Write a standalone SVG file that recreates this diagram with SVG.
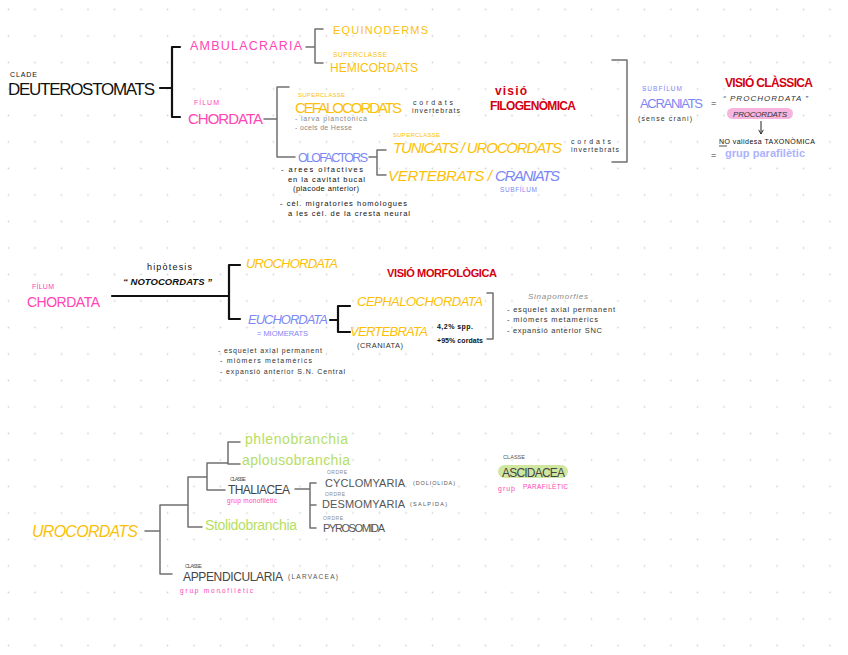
<svg xmlns="http://www.w3.org/2000/svg" width="848" height="655" viewBox="0 0 848 655">
<defs>
<pattern id="dots" x="7" y="8" width="26.5" height="26.5" patternUnits="userSpaceOnUse"><circle cx="1.5" cy="1.5" r="0.9" fill="#d6d6d6"/></pattern>
<marker id="arr" viewBox="0 0 10 10" refX="8" refY="5" markerWidth="6" markerHeight="6" orient="auto"><path d="M1,1 L8,5 L1,9" fill="none" stroke="#222" stroke-width="1.5"/></marker>
<style>
text{font-family:"Liberation Sans","DejaVu Sans",sans-serif}
.mag{fill:#ff45b5}
.yel{fill:#fcbf0a}
.blu{fill:#7d87f4}
.red{fill:#d40010;font-weight:bold}
.grn{fill:#b6de64}
.blk{fill:#111}
.dk{fill:#333}
.gry{fill:#555}
.lg{fill:#8a8a8a}
.it{font-style:italic}
.b{font-weight:bold}
.br{fill:none;stroke:#111;stroke-width:2.2;stroke-linecap:round;stroke-linejoin:round}
.bg{fill:none;stroke:#707070;stroke-width:1.5;stroke-linecap:round;stroke-linejoin:round}
</style>
</defs>
<rect width="848" height="655" fill="#fff"/>
<rect width="848" height="655" fill="url(#dots)"/>

<g id="connectors">
<path class="br" d="M160,88 H172 M180,47 H172 V117 H180"/>
<path class="bg" d="M306,47 H315 M323,29 H315 V63 H323"/>
<path class="bg" d="M264,119 H277 M289,87 H277 V157 H295"/>
<path class="bg" d="M369,157 H377 M386,150 H377 V175 H386"/>
<path class="bg" d="M612,60 H627 V162 H612"/>
<path fill="none" stroke="#222" stroke-width="1" d="M761,121 V134" marker-end="url(#arr)"/>
<path fill="none" stroke="#222" stroke-width="0.8" d="M719,146 H727"/>
<path class="br" d="M112,296 H229 M240,265 H229 V319 H240"/>
<path class="br" d="M330,320 H338 M350,306 H338 V332 H350"/>
<path class="bg" d="M487,293 H493 V339 H487"/>
<path class="bg" d="M145,531 H160 M188,505 H160 V574 H172 M207,477 H188 V527 H202 M225,490 H207 V463 H228 M240,442 H228 V464 H240"/>
<path class="bg" d="M295,489 H310 M316,483 H310 V528 H316 M310,505 H316"/>
</g>

<g id="deuterostomats"><text x="10" y="77" font-size="7" textLength="27" class="blk">CLADE</text><text x="8" y="95" font-size="17" textLength="147" class="blk">DEUTEROSTOMATS</text></g>
<g id="ambulacraria"><text x="190" y="50" font-size="12.5" textLength="112" class="mag">AMBULACRARIA</text></g>
<g id="equinoderms"><text x="333" y="34" font-size="11" textLength="95" class="yel">EQUINODERMS</text></g>
<g id="hemicordats"><text x="333" y="57" font-size="6.5" textLength="54" class="yel">SUPERCLASSE</text><text x="330" y="72" font-size="12" textLength="88" class="yel">HEMICORDATS</text></g>
<g id="chordata1"><text x="194" y="105" font-size="7" textLength="25" class="mag">FÍLUM</text><text x="188" y="124" font-size="15" textLength="75" class="mag">CHORDATA</text></g>
<g id="cefalocordats"><text x="298" y="97" font-size="6" textLength="47" class="yel">SUPERCLASSE</text><text x="295" y="113" font-size="15" textLength="107" class="yel">CEFALOCORDATS</text>
<text x="295" y="121" font-size="7" textLength="72" class="lg">- larva planctònica</text><text x="295" y="130" font-size="7" textLength="57" class="lg">- ocels de Hesse</text>
<text x="413" y="105" font-size="7" textLength="40" class="dk">cordats</text><text x="412" y="113" font-size="7" textLength="48" class="dk">invertebrats</text></g>
<g id="olofactors"><text x="298" y="162" font-size="12.5" textLength="70" class="blu">OLOFACTORS</text>
<text x="281" y="172" font-size="7.5" textLength="82" class="blk">- arees olfactives</text><text x="288" y="182" font-size="7.5" textLength="77" class="blk">en la cavitat bucal</text><text x="293" y="191" font-size="7.5" textLength="66" class="blk">(placode anterior)</text>
<text x="280" y="206" font-size="7.5" textLength="127" class="blk">- cèl. migratories homòlogues</text><text x="288" y="216" font-size="7.5" textLength="122" class="blk">a les cèl. de la cresta neural</text></g>
<g id="filogenomica"><text x="495" y="95" font-size="12" textLength="32" class="red">visió</text><text x="490" y="110" font-size="12" textLength="86" class="red">FILOGENÒMICA</text></g>
<g id="tunicats"><text x="393" y="137" font-size="6" textLength="47" class="yel">SUPERCLASSE</text><text x="393" y="153" font-size="15" textLength="169" class="yel it">TUNICATS / UROCORDATS</text>
<text x="571" y="144" font-size="7" textLength="40" class="dk">cordats</text><text x="571" y="152" font-size="7" textLength="48" class="dk">invertebrats</text></g>
<g id="vertebrats"><text x="388" y="181" font-size="15" textLength="104" class="yel it">VERTEBRATS /</text><text x="495" y="181" font-size="15" textLength="65" class="blu it">CRANIATS</text><text x="500" y="192" font-size="6.5" textLength="37" class="blu">SUBFÍLUM</text></g>
<g id="acraniats"><text x="642" y="91" font-size="6.5" textLength="40" class="blu">SUBFÍLUM</text><text x="640" y="108" font-size="13" textLength="63" class="blu">ACRANIATS</text><text x="638" y="121" font-size="7" textLength="54" class="dk">(sense crani)</text><text x="711" y="106" font-size="9" class="dk">=</text></g>
<g id="classica"><text x="725" y="87" font-size="12" textLength="88" class="red">VISIÓ CLÀSSICA</text>
<text x="723" y="101" font-size="8" textLength="85" class="dk it">“ PROCHORDATA ”</text>
<rect x="727" y="108" width="66" height="11" rx="5.5" fill="#f6b4de"/><text x="733" y="117" font-size="8" textLength="54" class="dk it">PROCORDATS</text>
<text x="719" y="144" font-size="7" textLength="96" class="blk">NO validesa TAXONÒMICA</text>
<text x="711" y="158" font-size="9" class="dk">=</text><text x="725" y="157" font-size="11" textLength="80" fill="#abb3ff" font-weight="bold">grup parafilètic</text></g>

<g id="chordata2"><text x="32" y="289" font-size="7" textLength="22" class="mag">FÍLUM</text><text x="27" y="307" font-size="14" textLength="73" class="mag">CHORDATA</text>
<text x="147" y="270" font-size="9" textLength="45" class="blk">hipòtesis</text><text x="123" y="285" font-size="9.5" textLength="89" class="blk b it">“ NOTOCORDATS ”</text></g>
<g id="urochordata"><text x="246" y="268" font-size="13" textLength="92" class="yel it">UROCHORDATA</text></g>
<g id="euchordata"><text x="248" y="324" font-size="13" textLength="80" class="blu it">EUCHORDATA</text><text x="257" y="336" font-size="7.5" textLength="51" class="blu">= MIOMERATS</text>
<text x="218" y="353" font-size="7" textLength="104" class="dk">- esquelet axial permanent</text><text x="220" y="363" font-size="7" textLength="92" class="dk">- miòmers metamèrics</text><text x="220" y="374" font-size="7" textLength="125" class="dk">- expansió anterior S.N. Central</text></g>
<g id="morfologica"><text x="387" y="277" font-size="11" textLength="110" class="red">VISIÓ MORFOLÒGICA</text></g>
<g id="cephalochordata"><text x="357" y="306" font-size="13" textLength="126" class="yel it">CEPHALOCHORDATA</text></g>
<g id="vertebrata"><text x="350" y="336" font-size="13" textLength="78" class="yel it">VERTEBRATA</text><text x="357" y="348" font-size="7.5" textLength="46" class="dk">(CRANIATA)</text>
<text x="437" y="329" font-size="7" textLength="36" class="blk b">4,2% spp.</text><text x="437" y="343" font-size="7" textLength="46" class="blk b">+95% cordats</text></g>
<g id="sinapomorfies"><text x="528" y="299" font-size="8" textLength="60" class="lg it">Sinapomorfies</text>
<text x="507" y="312" font-size="7.5" textLength="108" class="dk">- esquelet axial permanent</text><text x="507" y="322" font-size="7.5" textLength="91" class="dk">- miòmers metamèrics</text><text x="507" y="333" font-size="7.5" textLength="95" class="dk">- expansió anterior SNC</text></g>

<g id="urocordats"><text x="32" y="537" font-size="16" textLength="106" class="yel it">UROCORDATS</text></g>
<g id="phlenobranchia"><text x="245" y="444" font-size="14" textLength="103" class="grn">phlenobranchia</text></g>
<g id="aplousobranchia"><text x="242" y="465" font-size="14" textLength="108" class="grn">aplousobranchia</text></g>
<g id="thaliacea"><text x="230" y="481" font-size="5.5" textLength="16" class="gry">CLASSE</text><text x="228" y="494" font-size="12" textLength="62" fill="#444">THALIACEA</text><text x="227" y="503" font-size="6.5" textLength="50" class="mag">grup monofilètic</text></g>
<g id="stolidobranchia"><text x="205" y="530" font-size="14" textLength="92" class="grn">Stolidobranchia</text></g>
<g id="appendicularia"><text x="185" y="568" font-size="5.5" textLength="17" class="gry">CLASSE</text><text x="183" y="581" font-size="12" textLength="100" fill="#444">APPENDICULARIA</text><text x="288" y="579" font-size="6.5" textLength="50" class="gry">(LARVACEA)</text><text x="180" y="593" font-size="6.5" textLength="73" class="mag">grup monofilètic</text></g>
<g id="cyclomyaria"><text x="327" y="474" font-size="5" textLength="20" class="lg">ORDRE</text><text x="325" y="487" font-size="11" textLength="80" class="gry">CYCLOMYARIA</text><text x="413" y="485" font-size="5.5" textLength="42" class="gry">(DOLIOLIDA)</text></g>
<g id="desmomyaria"><text x="325" y="496" font-size="5" textLength="20" class="lg">ORDRE</text><text x="322" y="508" font-size="11" textLength="83" class="gry">DESMOMYARIA</text><text x="410" y="506" font-size="5.5" textLength="37" class="gry">(SALPIDA)</text></g>
<g id="pyrosomida"><text x="323" y="520" font-size="5" textLength="20" class="lg">ORDRE</text><text x="323" y="532" font-size="11" textLength="62" class="gry">PYROSOMIDA</text></g>
<g id="ascidacea"><text x="503" y="459" font-size="5.5" textLength="22" class="gry">CLASSE</text><rect x="498" y="465" width="70" height="13" rx="6.5" fill="#d0e7a0"/><text x="502" y="477" font-size="12" textLength="63" fill="#444">ASCIDACEA</text>
<text x="498" y="491" font-size="7" textLength="17" class="mag">grup</text><text x="523" y="489" font-size="6.5" textLength="45" class="mag">PARAFILÈTIC</text></g>
</svg>
